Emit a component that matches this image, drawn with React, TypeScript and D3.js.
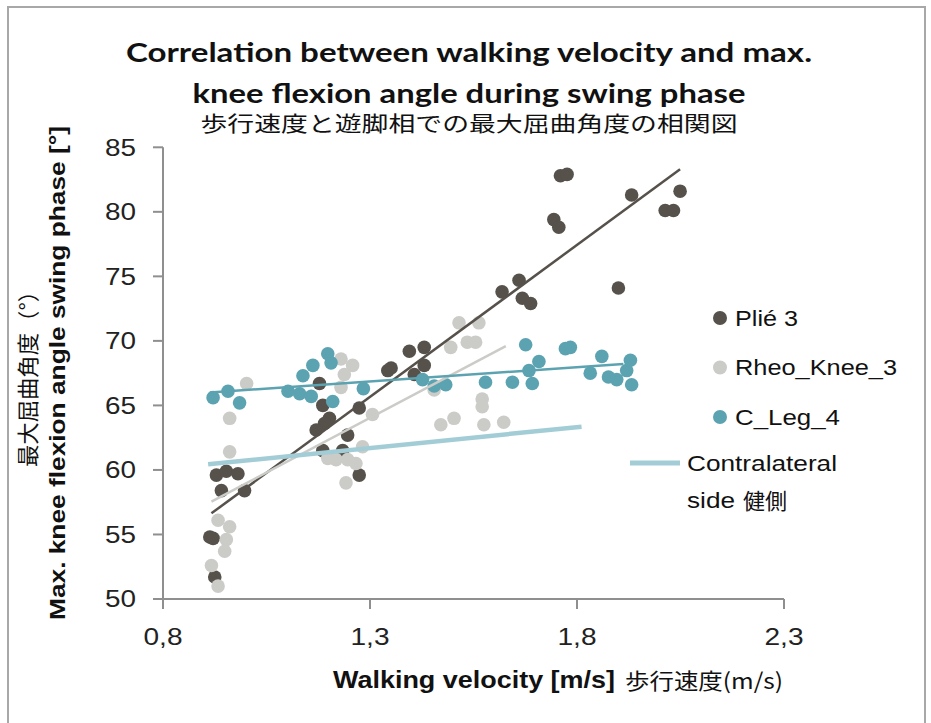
import * as d3 from "d3"

// velocity [m/s], max. knee flexion angle [°]
const pliePoints: [number, number][] = [
  [0.929, 59.6], [0.953, 59.9], [0.981, 59.7], [0.941, 58.4], [0.997, 58.4],
  [0.913, 54.8], [0.921, 54.7], [0.925, 51.7],
  [1.178, 66.7], [1.186, 65.0], [1.202, 64.0], [1.19, 63.6], [1.17, 63.1],
  [1.274, 64.8], [1.246, 62.7], [1.186, 61.5], [1.234, 61.5], [1.274, 59.6],
  [1.343, 67.7], [1.351, 67.9], [1.395, 69.2], [1.431, 69.5], [1.431, 68.1],
  [1.407, 67.4], [1.619, 73.8], [1.66, 74.7], [1.668, 73.3], [1.688, 72.9],
  [1.744, 79.4], [1.756, 78.8], [1.76, 82.8], [1.776, 82.9], [1.9, 74.1],
  [1.932, 81.3], [2.013, 80.1], [2.033, 80.1], [2.049, 81.6],
]

const rheoPoints: [number, number][] = [
  [1.002, 66.7], [0.961, 64.0], [0.961, 61.4], [0.933, 56.1], [0.961, 55.6],
  [0.953, 54.6], [0.949, 53.7], [0.917, 52.6], [0.933, 51.0],
  [1.23, 68.6], [1.258, 68.1], [1.238, 67.4], [1.23, 66.4], [1.306, 64.3],
  [1.282, 61.8], [1.198, 60.9], [1.218, 60.8], [1.246, 60.8], [1.266, 60.5],
  [1.242, 59.0], [1.455, 66.2], [1.495, 69.5], [1.515, 71.4], [1.535, 69.9],
  [1.555, 69.9], [1.563, 71.4], [1.571, 65.5], [1.571, 64.9], [1.471, 63.5],
  [1.503, 64.0], [1.575, 63.5], [1.623, 63.7],
]

const cLegPoints: [number, number][] = [
  [0.921, 65.6], [0.957, 66.1], [0.985, 65.2], [1.102, 66.1], [1.13, 65.9],
  [1.158, 65.7], [1.138, 67.3], [1.162, 68.1], [1.198, 69.0], [1.206, 68.3],
  [1.21, 65.3], [1.284, 66.3], [1.427, 67.0], [1.455, 66.5], [1.483, 66.6],
  [1.579, 66.8], [1.644, 66.8], [1.676, 69.7], [1.684, 67.7], [1.708, 68.4],
  [1.692, 66.7], [1.772, 69.4], [1.784, 69.5], [1.832, 67.5], [1.86, 68.8],
  [1.876, 67.2], [1.896, 67.0], [1.92, 67.7], [1.929, 68.5], [1.932, 66.6],
]

// trend lines: [x0, y0, x1, y1]
const plieTrend = [0.917, 56.64, 2.049, 83.3]
const rheoTrend = [0.917, 57.54, 1.628, 69.6]
const cLegTrend = [0.913, 66.0, 1.912, 68.21]
const contralateralTrend = [0.909, 60.44, 1.811, 63.35]

const xTicks = [0.8, 1.3, 1.8, 2.3]
const yTicks = [50, 55, 60, 65, 70, 75, 80, 85]

const legendItems = [
  { name: "Plié 3", color: "#56514a", width: 63 },
  { name: "Rheo_Knee_3", color: "#cbcbc8", width: 162 },
  { name: "C_Leg_4", color: "#5ca3b1", width: 105 },
]

const fmt = d3.formatLocale({ decimal: ",", thousands: ".", grouping: [3], currency: ["", ""] }).format(".1f")

export default function App() {
  const width = 931
  const height = 723
  const x = d3.scaleLinear().domain([0.8, 2.3]).range([163, 784])
  const y = d3.scaleLinear().domain([50, 85]).range([599, 147.3])

  const sans = "'Liberation Sans', Arial, sans-serif"
  const cjk = "'Noto Sans CJK JP', sans-serif"
  const axisColor = "#8f8f8f"

  const trend = (t: number[], color: string, w: number) => (
    <line
      x1={x(t[0])}
      y1={y(t[1])}
      x2={x(t[2])}
      y2={y(t[3])}
      stroke={color}
      strokeWidth={w}
    />
  )

  const dots = (pts: [number, number][], color: string) =>
    pts.map((d, i) => <circle key={i} cx={x(d[0])} cy={y(d[1])} r={6.8} fill={color} />)

  return (
    <svg
      width={width}
      height={height}
      style={{ position: "absolute", left: 0, top: 0, background: "#fff" }}
    >
      <rect x={0} y={0} width={width} height={height} fill="#fff" />
      {/* frame */}
      <path d="M8,730 V7 H925 V730" fill="none" stroke="#a8a8a8" strokeWidth={2} />

      {/* title */}
      <g fontFamily="Lato, 'Open Sans', sans-serif" fontWeight={700} fontSize={26} fill="#111" textAnchor="middle">
        <text x={469} y={61.5} textLength={686} lengthAdjust="spacingAndGlyphs">
          Correlation between walking velocity and max.
        </text>
        <text x={469} y={103} textLength={553} lengthAdjust="spacingAndGlyphs">
          knee flexion angle during swing phase
        </text>
      </g>
      <text x={469} y={131} fontFamily={cjk} fontSize={21} fill="#111" textAnchor="middle" textLength={537} lengthAdjust="spacingAndGlyphs">
        歩行速度と遊脚相での最大屈曲角度の相関図
      </text>

      {/* axes */}
      <g stroke={axisColor} strokeWidth={2} fill="none">
        <line x1={x(0.8)} y1={y(50)} x2={x(2.3)} y2={y(50)} />
        <line x1={x(0.8)} y1={y(50)} x2={x(0.8)} y2={y(85)} />
        {xTicks.map((t) => (
          <line key={t} x1={x(t)} x2={x(t)} y1={y(50)} y2={y(50) + 10} />
        ))}
        {yTicks.map((t) => (
          <line key={t} x1={x(0.8) - 10} x2={x(0.8)} y1={y(t)} y2={y(t)} />
        ))}
      </g>
      <g fontFamily={sans} fontSize={23} fill="#222">
        {xTicks.map((t) => (
          <text key={t} x={x(t)} y={645} textAnchor="middle" textLength={39} lengthAdjust="spacingAndGlyphs">
            {fmt(t)}
          </text>
        ))}
        {yTicks.map((t) => (
          <text key={t} x={136} y={y(t) + 8.3} textAnchor="end" textLength={31} lengthAdjust="spacingAndGlyphs">
            {t}
          </text>
        ))}
      </g>

      {/* axis titles */}
      <text x={333} y={688} fontFamily={sans} fontWeight={700} fontSize={24} fill="#111" textLength={282} lengthAdjust="spacingAndGlyphs">
        Walking velocity [m/s]
      </text>
      <text x={625} y={689} fontFamily={cjk} fontSize={22} fill="#111" textLength={158} lengthAdjust="spacingAndGlyphs">
        歩行速度(m/s)
      </text>
      <text
        transform="translate(65,373) rotate(-90)"
        textAnchor="middle"
        fontFamily={sans}
        fontWeight={700}
        fontSize={22}
        fill="#111"
        textLength={494}
        lengthAdjust="spacingAndGlyphs"
      >
        Max. knee flexion angle swing phase [°]
      </text>
      <text
        transform="translate(36,373.5) rotate(-90)"
        textAnchor="middle"
        fontFamily={cjk}
        fontSize={22}
        fill="#111"
        textLength={187}
        lengthAdjust="spacingAndGlyphs"
      >
        最大屈曲角度（°）
      </text>

      {/* points */}
      <g>{dots(pliePoints, "#56514a")}</g>
      <g>{dots(rheoPoints, "#cbcbc8")}</g>
      <g>{dots(cLegPoints, "#5ca3b1")}</g>

      {/* trend lines */}
      {trend(plieTrend, "#56514a", 2.5)}
      {trend(rheoTrend, "#cbcbc8", 2.5)}
      {trend(cLegTrend, "#5ca3b1", 2.5)}
      {trend(contralateralTrend, "#a3cdd6", 4.5)}

      {/* legend */}
      <g fontFamily={sans} fontSize={22} fill="#111">
        {legendItems.map((d, i) => (
          <g key={d.name} transform={`translate(0,${318 + i * 49.5})`}>
            <circle cx={720} cy={0} r={7} fill={d.color} />
            <text x={735} y={7.5} textLength={d.width} lengthAdjust="spacingAndGlyphs">
              {d.name}
            </text>
          </g>
        ))}
        <line x1={630} x2={680} y1={463} y2={463} stroke="#a3cdd6" strokeWidth={5} />
        <text x={687} y={471} textLength={150} lengthAdjust="spacingAndGlyphs">
          Contralateral
        </text>
        <text x={687} y={508} textLength={48} lengthAdjust="spacingAndGlyphs">
          side
        </text>
        <text x={743} y={509} fontFamily={cjk} fontSize={22} textLength={44} lengthAdjust="spacingAndGlyphs">
          健側
        </text>
      </g>
    </svg>
  )
}
